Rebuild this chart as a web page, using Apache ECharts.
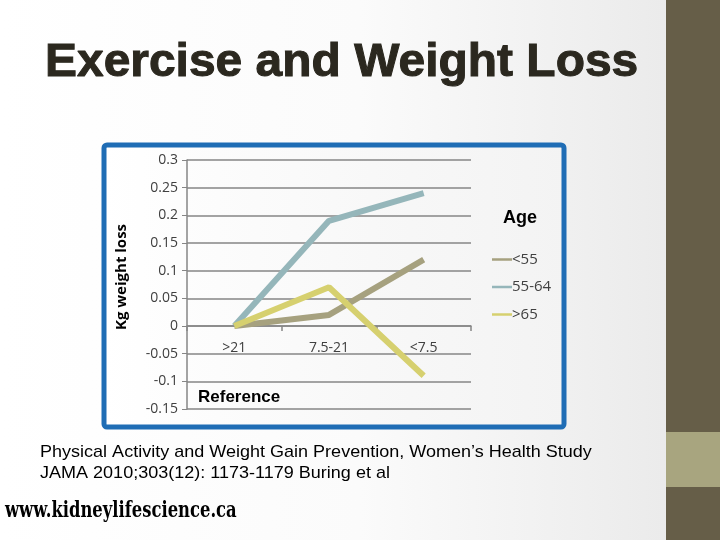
<!DOCTYPE html>
<html><head><meta charset="utf-8">
<script src="https://cdn.jsdelivr.net/npm/echarts@6/dist/echarts.min.js"></script>
<style>html,body{margin:0;padding:0;}#c{width:720px;height:540px;}</style>
</head><body><div id="c"></div>
<script>
const categories = ['>21', '7.5-21', '<7.5'];
const seriesNames = ['<55', '55-64', '>65'];
const under55 = [0, 0.02, 0.12];
const age55to64 = [0, 0.19, 0.24];
const over65 = [0, 0.07, -0.09];
const seriesColors = ['#A6A17F', '#95B6BA', '#D6D06F'];

const chart = echarts.init(document.getElementById('c'));
const values = [under55, age55to64, over65];
chart.setOption({
  backgroundColor: new echarts.graphic.LinearGradient(0, 0, 1, 0, [
    {offset: 0, color: '#FFFFFF'}, {offset: 0.5, color: '#FBFBFB'}, {offset: 1, color: '#E8E8E8'}
  ]),
  animation: false,
  graphic: [
    {type: 'rect', z: -10, shape: {x: 666, y: 0, width: 54, height: 540}, style: {fill: '#665E48'}},
    {type: 'rect', z: -9, shape: {x: 666, y: 432, width: 54, height: 55}, style: {fill: '#A8A57F'}},
    {type: 'rect', z: -8, shape: {x: 104, y: 145, width: 460, height: 282, r: 3},
      style: {fill: new echarts.graphic.LinearGradient(0, 0, 1, 0, [{offset: 0, color: '#FFFFFF'}, {offset: 1, color: '#F3F3F3'}]), stroke: '#1F6DB5', lineWidth: 5}},
    {type: 'text', x: 45, y: 40, scaleX: 1.02, style: {text: 'Exercise and Weight Loss', font: 'bold 47px "Liberation Sans", Arial', fill: '#2B281F', stroke: '#2B281F', lineWidth: 1}},
    {type: 'text', x: 503, y: 209, style: {text: 'Age', font: 'bold 18px "Liberation Sans", Arial', fill: '#000'}},
    {type: 'text', x: 198, y: 389, style: {text: 'Reference', font: 'bold 17px "Liberation Sans", Arial', fill: '#000'}},
    {type: 'text', x: 122, y: 277, rotation: Math.PI / 2, style: {text: 'Kg weight loss', font: 'bold 15px "Open Sans", "Noto Sans", sans-serif', fill: '#000', align: 'center', verticalAlign: 'middle'}},
    {type: 'text', x: 40, y: 444, scaleX: 1.06, style: {text: 'Physical Activity and Weight Gain Prevention, Women\u2019s Health Study', font: '17px "Liberation Sans", Arial', fill: '#000'}},
    {type: 'text', x: 40, y: 465, scaleX: 1.06, style: {text: 'JAMA 2010;303(12): 1173-1179 Buring et al', font: '17px "Liberation Sans", Arial', fill: '#000'}},
    {type: 'text', x: 5, y: 500, scaleX: 0.745, style: {text: 'www.kidneylifescience.ca', font: 'bold 22px "DejaVu Serif", serif', fill: '#000'}}
  ],
  grid: {left: 187, right: 249, top: 160, bottom: 131},
  legend: {
    orient: 'vertical', left: 487, top: 247, itemGap: 12.5,
    icon: 'rect', itemWidth: 20, itemHeight: 2.5,
    data: seriesNames,
    textStyle: {fontSize: 15, color: '#404040', fontFamily: '"Open Sans", "Noto Sans", sans-serif', padding: [0, 0, 0, -5]}
  },
  xAxis: {
    type: 'category', data: categories, boundaryGap: true, offset: -83,
    axisLine: {onZero: false, lineStyle: {color: '#868686', width: 1.5}},
    axisTick: {show: true, length: 5, lineStyle: {color: '#868686', width: 1.5}},
    axisLabel: {margin: 15, fontSize: 14, color: '#404040', fontFamily: '"Open Sans", "Noto Sans", sans-serif'}
  },
  yAxis: {
    type: 'value', min: -0.15, max: 0.3, interval: 0.05,
    axisLine: {show: true, lineStyle: {color: '#868686', width: 1.5}},
    axisTick: {show: true, length: 5, inside: false, lineStyle: {color: '#868686'}},
    splitLine: {show: true, lineStyle: {color: '#868686', width: 1.5}},
    axisLabel: {margin: 9, fontSize: 14, color: '#404040', fontFamily: '"Open Sans", "Noto Sans", sans-serif',
      formatter: v => String(parseFloat(v.toFixed(2)))}
  },
  series: seriesNames.map((n, i) => ({
    name: n, type: 'line', data: values[i], symbol: 'none',
    lineStyle: {width: 6, color: seriesColors[i]}, itemStyle: {color: seriesColors[i]}
  }))
});
</script></body></html>
